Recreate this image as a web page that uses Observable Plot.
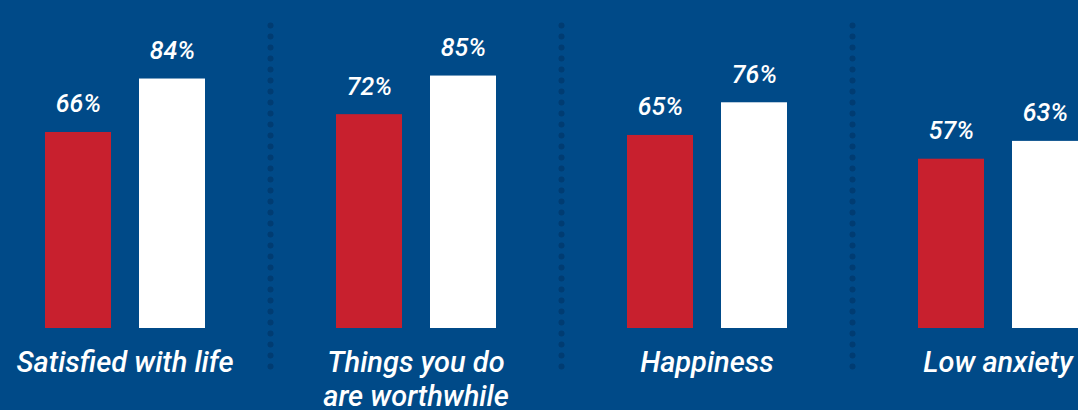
<!DOCTYPE html>
<html><head><meta charset="utf-8">
<script src="https://cdn.jsdelivr.net/npm/d3@7"></script>
<script src="https://cdn.jsdelivr.net/npm/@observablehq/plot@0.6"></script>
<style>
html,body{margin:0;padding:0;background:#004a88;overflow:hidden;}
#chart svg{display:block;}
</style></head><body><div id="chart"></div>
<script>
const categories = ["Satisfied with life", "Things you do\nare worthwhile", "Happiness", "Low anxiety"];
const seriesNames = ["Group A", "Group B"];
const redValues = [66, 72, 65, 57];
const whiteValues = [84, 85, 76, 63];
const seriesColors = ["#c8202e", "#ffffff"];

const data = categories.flatMap((c, i) => [
  {category: c, series: seriesNames[0], value: redValues[i]},
  {category: c, series: seriesNames[1], value: whiteValues[i]}
]);
const separators = categories.slice(0, -1);
const font = "Roboto, 'Noto Sans', sans-serif";

const chart = Plot.plot({
  width: 1078, height: 410,
  marginLeft: 44, marginRight: 0, marginTop: 31, marginBottom: 82,
  style: {background: "#004a88", color: "white", fontFamily: font, overflow: "visible"},
  fx: {domain: categories, paddingInner: 0.448, paddingOuter: 0, axis: null, label: null},
  x: {domain: seriesNames, paddingInner: 0.298, paddingOuter: 0, axis: null},
  y: {domain: [0, 100], axis: null},
  color: {domain: seriesNames, range: seriesColors},
  marks: [
    Plot.ruleX(separators, {fx: d => d, x: () => seriesNames[1], y1: -13, y2: 102, dx: 98,
      stroke: "#003c72", strokeWidth: 6, strokeDasharray: "0 11", strokeLinecap: "round"}),
    Plot.barY(data, {fx: "category", x: "series", y: "value", fill: "series"}),
    Plot.text(data, {fx: "category", x: "series", y: "value", text: d => d.value + "%",
      dy: -20, lineAnchor: "bottom", fill: "white", fontSize: 25, fontStyle: "italic", fontWeight: 500}),
    Plot.text(categories, {fx: d => d, frameAnchor: "bottom", text: d => d, lineAnchor: "top",
      dy: 20, lineHeight: 1.16, fill: "white", fontSize: 29, fontStyle: "italic", fontWeight: 500})
  ]
});
document.getElementById("chart").appendChild(chart);
</script></body></html>
